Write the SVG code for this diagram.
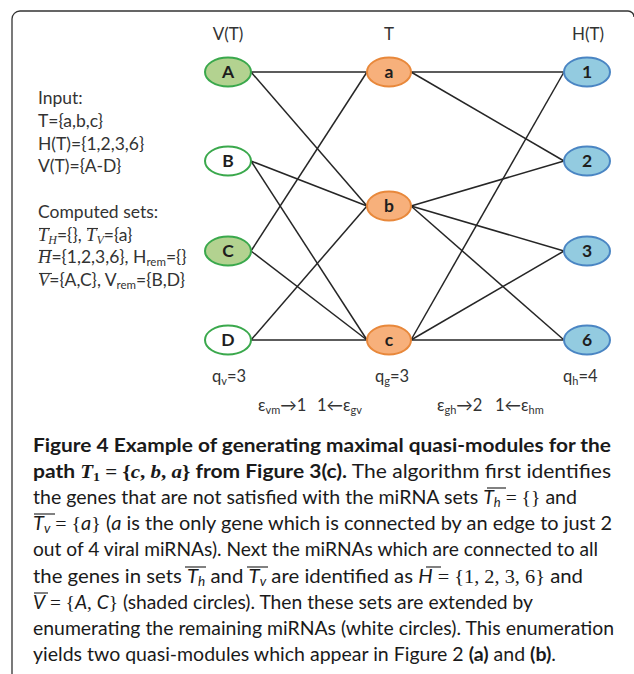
<svg xmlns="http://www.w3.org/2000/svg" width="634" height="674" viewBox="0 0 634 674">
<style>
.frame{fill:none;stroke:#333;stroke-width:1.3}
.edge{stroke:#262626;stroke-width:1.5;fill:none}
.v{fill:#fff;stroke:#3aa84c;stroke-width:2}
.vs{fill:#b3d290;stroke:#3aa84c;stroke-width:2}
.t{fill:#f7b07b;stroke:#e8883b;stroke-width:2}
.h{fill:#93cbe0;stroke:#4a85c3;stroke-width:2}
.nl{font-family:Lato,"Liberation Sans",sans-serif;font-weight:bold;font-size:17.5px;fill:#1e1e1e;text-anchor:middle}
.hd{font-family:Lato,"Liberation Sans",sans-serif;font-size:17px;fill:#333;text-anchor:middle}
.lab{font-family:Lato,"Liberation Sans",sans-serif;font-size:17.5px;fill:#333}
.bl{font-family:Lato,"Liberation Sans",sans-serif;font-size:16.5px;fill:#333}
.m{font-family:"Liberation Serif",serif;font-style:italic}
.cap{font-family:Lato,"Liberation Sans",sans-serif;font-size:19.5px;fill:#1a1a1a}
.b{font-weight:bold}
.i{font-style:italic}
.ms{font-family:"Liberation Serif",serif}
.ol{stroke:#333;stroke-width:1.1}
.olc{stroke:#1a1a1a;stroke-width:1.1}
</style>

<path class="frame" d="M12,674 V19 A8,8 0 0 1 20,11 H628 A6,6 0 0 1 634,17"/>

<g id="connectors">
  <line class="edge" x1="251" y1="72" x2="367" y2="72"/>
  <line class="edge" x1="251" y1="72" x2="367" y2="206"/>
  <line class="edge" x1="251" y1="161" x2="367" y2="206"/>
  <line class="edge" x1="251" y1="161" x2="367" y2="340"/>
  <line class="edge" x1="251" y1="251" x2="367" y2="72"/>
  <line class="edge" x1="251" y1="251" x2="367" y2="340"/>
  <line class="edge" x1="251" y1="340" x2="367" y2="206"/>
  <line class="edge" x1="251" y1="340" x2="367" y2="340"/>
  <line class="edge" x1="411" y1="72" x2="564" y2="72"/>
  <line class="edge" x1="411" y1="72" x2="564" y2="161"/>
  <line class="edge" x1="411" y1="206" x2="564" y2="161"/>
  <line class="edge" x1="411" y1="206" x2="564" y2="251"/>
  <line class="edge" x1="411" y1="206" x2="564" y2="340"/>
  <line class="edge" x1="411" y1="340" x2="564" y2="72"/>
  <line class="edge" x1="411" y1="340" x2="564" y2="251"/>
  <line class="edge" x1="411" y1="340" x2="564" y2="340"/>
</g>

<g id="headers">
  <text class="hd" x="228" y="40">V(T)</text>
  <text class="hd" x="389" y="40">T</text>
  <text class="hd" x="588" y="40">H(T)</text>
</g>

<g id="node-A"><ellipse class="vs" cx="228" cy="72" rx="23" ry="14.5"/><text class="nl" x="228" y="78">A</text></g>
<g id="node-B"><ellipse class="v" cx="228" cy="161" rx="23" ry="14.5"/><text class="nl" x="228" y="167">B</text></g>
<g id="node-C"><ellipse class="vs" cx="228" cy="251" rx="23" ry="14.5"/><text class="nl" x="228" y="257">C</text></g>
<g id="node-D"><ellipse class="v" cx="228" cy="340" rx="23" ry="14.5"/><text class="nl" x="228" y="346">D</text></g>

<g id="node-a"><ellipse class="t" cx="389" cy="72" rx="22" ry="14.5"/><text class="nl" x="389" y="78">a</text></g>
<g id="node-b"><ellipse class="t" cx="389" cy="206" rx="22" ry="14.5"/><text class="nl" x="389" y="212">b</text></g>
<g id="node-c"><ellipse class="t" cx="389" cy="340" rx="22" ry="14.5"/><text class="nl" x="389" y="346">c</text></g>

<g id="node-1"><ellipse class="h" cx="587" cy="72" rx="23" ry="14.5"/><text class="nl" x="587" y="78">1</text></g>
<g id="node-2"><ellipse class="h" cx="587" cy="161" rx="23" ry="14.5"/><text class="nl" x="587" y="167">2</text></g>
<g id="node-3"><ellipse class="h" cx="587" cy="251" rx="23" ry="14.5"/><text class="nl" x="587" y="257">3</text></g>
<g id="node-6"><ellipse class="h" cx="587" cy="340" rx="23" ry="14.5"/><text class="nl" x="587" y="346">6</text></g>

<g id="left-panel">
  <text class="lab" x="38" y="104">Input:</text>
  <text class="lab" x="38" y="127">T={a,b,c}</text>
  <text class="lab" x="38" y="150">H(T)={1,2,3,6}</text>
  <text class="lab" x="38" y="172">V(T)={A-D}</text>
  <text class="lab" x="38" y="218">Computed sets:</text>
  <text class="lab" x="38" y="241"><tspan class="m" font-size="18.5">T</tspan><tspan class="m" font-size="12" dy="3">H</tspan><tspan dy="-3">={}, </tspan><tspan class="m" font-size="18.5">T</tspan><tspan class="m" font-size="12" dy="3">V</tspan><tspan dy="-3">={a}</tspan></text>
  <line class="ol" x1="39" y1="228.5" x2="50" y2="228.5"/>
  <line class="ol" x1="87" y1="228.5" x2="98" y2="228.5"/>
  <text class="lab" x="38" y="263"><tspan class="m" font-size="18.5">H</tspan><tspan>={1,2,3,6}, H</tspan><tspan font-size="11.5" dy="3">rem</tspan><tspan dy="-3">={}</tspan></text>
  <line class="ol" x1="39" y1="250.5" x2="52" y2="250.5"/>
  <text class="lab" x="38" y="286"><tspan class="m" font-size="18.5">V</tspan><tspan>={A,C}, V</tspan><tspan font-size="11.5" dy="3">rem</tspan><tspan dy="-3">={B,D}</tspan></text>
  <line class="ol" x1="39" y1="273.5" x2="52" y2="273.5"/>
</g>

<g id="bottom-labels">
  <text class="bl" x="212" y="382">q<tspan font-size="11" dy="3">v</tspan><tspan dy="-3">=3</tspan></text>
  <text class="bl" x="375" y="382">q<tspan font-size="11" dy="3">g</tspan><tspan dy="-3">=3</tspan></text>
  <text class="bl" x="563" y="382">q<tspan font-size="11" dy="3">h</tspan><tspan dy="-3">=4</tspan></text>
  <text class="bl" x="258" y="411">ε<tspan font-size="11" dy="3">vm</tspan><tspan dy="-3">→1</tspan></text>
  <text class="bl" x="317" y="411">1←ε<tspan font-size="11" dy="3">gv</tspan></text>
  <text class="bl" x="437" y="411">ε<tspan font-size="11" dy="3">gh</tspan><tspan dy="-3">→2</tspan></text>
  <text class="bl" x="495" y="411">1←ε<tspan font-size="11" dy="3">hm</tspan></text>
</g>

<g id="caption">
  <text class="cap b" x="33" y="452" textLength="578" lengthAdjust="spacingAndGlyphs">Figure 4 Example of generating maximal quasi-modules for the</text>
  <text class="cap" x="33" y="478" textLength="578" lengthAdjust="spacingAndGlyphs"><tspan class="b">path </tspan><tspan class="ms b i">T</tspan><tspan class="ms b" font-size="13" dy="3">1</tspan><tspan class="ms b" dy="-3"> = {</tspan><tspan class="ms b i">c</tspan><tspan class="ms b">, </tspan><tspan class="ms b i">b</tspan><tspan class="ms b">, </tspan><tspan class="ms b i">a</tspan><tspan class="ms b">}</tspan><tspan class="b"> from Figure 3(c).</tspan> The algorithm first identifies</text>
  <text class="cap" x="33" y="504" textLength="544" lengthAdjust="spacingAndGlyphs">the genes that are not satisfied with the miRNA sets <tspan class="i">T</tspan><tspan class="i" font-size="13" dy="3">h</tspan><tspan class="ms" dy="-3"> = {}</tspan> and</text>
  <line class="olc" x1="487" y1="488" x2="506" y2="488"/>
  <text class="cap" x="33" y="530" textLength="579" lengthAdjust="spacingAndGlyphs"><tspan class="i">T</tspan><tspan class="i" font-size="13" dy="3">v</tspan><tspan class="ms" dy="-3"> = {</tspan><tspan class="i">a</tspan><tspan class="ms">}</tspan> (<tspan class="i">a</tspan> is the only gene which is connected by an edge to just 2</text>
  <line class="olc" x1="34" y1="514" x2="55" y2="514"/>
  <text class="cap" x="33" y="556" textLength="565" lengthAdjust="spacingAndGlyphs">out of 4 viral miRNAs). Next the miRNAs which are connected to all</text>
  <text class="cap" x="33" y="583" textLength="550" lengthAdjust="spacingAndGlyphs">the genes in sets <tspan class="i">T</tspan><tspan class="i" font-size="13" dy="3">h</tspan><tspan dy="-3"> and </tspan><tspan class="i">T</tspan><tspan class="i" font-size="13" dy="3">v</tspan><tspan dy="-3"> are identified as </tspan><tspan class="i">H</tspan><tspan class="ms"> = {1, 2, 3, 6}</tspan> and</text>
  <line class="olc" x1="185" y1="567" x2="206" y2="567"/>
  <line class="olc" x1="247" y1="567" x2="268" y2="567"/>
  <line class="olc" x1="426" y1="567" x2="441" y2="567"/>
  <text class="cap" x="33" y="609" textLength="500" lengthAdjust="spacingAndGlyphs"><tspan class="i">V</tspan><tspan class="ms"> = {</tspan><tspan class="i">A</tspan><tspan class="ms">, </tspan><tspan class="i">C</tspan><tspan class="ms">}</tspan> (shaded circles). Then these sets are extended by</text>
  <line class="olc" x1="34" y1="593" x2="48" y2="593"/>
  <text class="cap" x="33" y="635" textLength="581" lengthAdjust="spacingAndGlyphs">enumerating the remaining miRNAs (white circles). This enumeration</text>
  <text class="cap" x="33" y="661" font-size="18.4">yields two quasi-modules which appear in Figure 2 <tspan class="b">(a)</tspan> and <tspan class="b">(b)</tspan>.</text>
</g>
</svg>
